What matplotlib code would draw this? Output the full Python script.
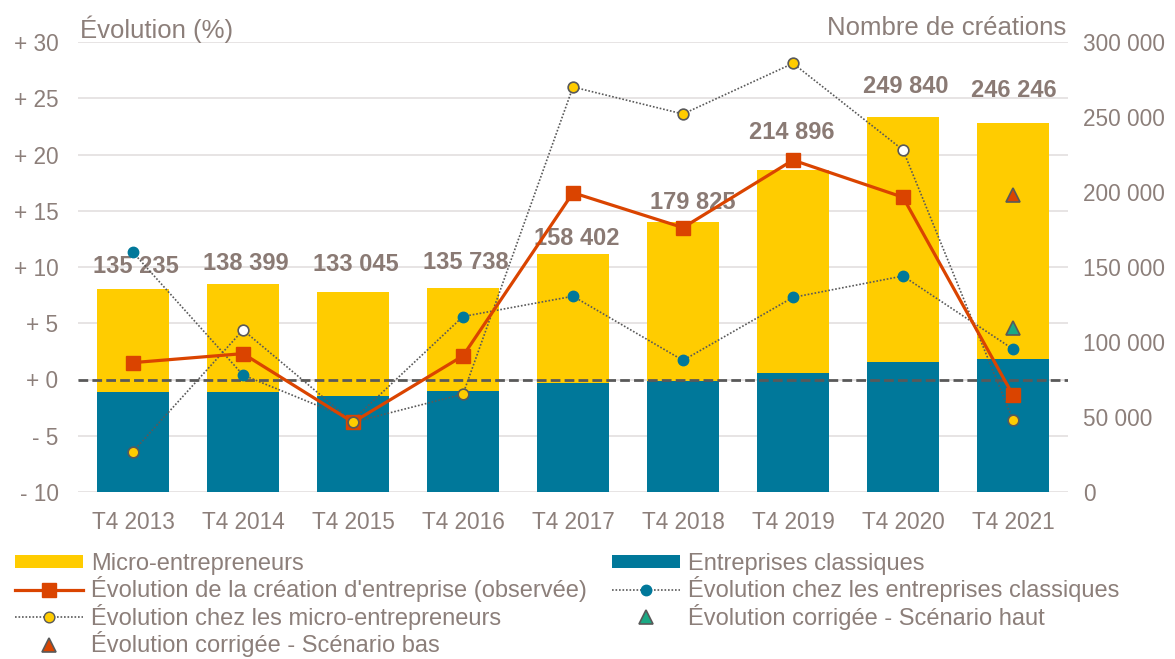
import matplotlib
matplotlib.use("Agg")
import matplotlib.pyplot as plt
from matplotlib.lines import Line2D
from matplotlib.patches import Patch

plt.rcParams['font.family'] = ['Liberation Sans', 'DejaVu Sans']

# --- data ---
quarters = ["T4 2013", "T4 2014", "T4 2015", "T4 2016", "T4 2017",
            "T4 2018", "T4 2019", "T4 2020", "T4 2021"]
total = [135235, 138399, 133045, 135738, 158402, 179825, 214896, 249840, 246246]
classiques = [66500, 66700, 64200, 67600, 72900, 74200, 79600, 86700, 88900]
micro = [t - c for t, c in zip(total, classiques)]

evo_observee = [1.5, 2.3, -3.8, 2.1, 16.6, 13.5, 19.5, 16.2, -1.4]
evo_classiques = [11.3, 0.4, -3.6, 5.6, 7.4, 1.7, 7.3, 9.2, 2.7]
evo_micro = [-6.4, 4.4, -3.8, -1.3, 26.0, 23.6, 28.1, 20.4, -3.6]
micro_hollow = [False, True, False, False, False, False, False, True, False]
scenario_haut = [None] * 8 + [4.6]
scenario_bas = [None] * 8 + [16.4]

left_ticks = [-10, -5, 0, 5, 10, 15, 20, 25, 30]
right_ticks = [0, 50000, 100000, 150000, 200000, 250000, 300000]

# label offsets above bar tops (pixels)
label_dy = [23, 21, 28, 26, 16, 20, 37, 31, 32]
label_dx = [3, 3, 3, 3, 4, 10, -1, 3, 1]

YELLOW = "#FFCC00"
TEAL = "#00789A"
ORANGE = "#DA4400"
GREEN = "#1BA984"
GREY = "#595959"
TXT = "#8C7F7A"
GRID = "#E0DCDC"

fig = plt.figure(figsize=(11.75, 6.59), dpi=100)
ax = fig.add_axes([78 / 1175, 1 - 492 / 659, 990 / 1175, 450 / 659])
axl = ax.twinx()

x = list(range(len(quarters)))

# bars on the count axis (right)
ax.bar(x, classiques, width=0.66, color=TEAL, zorder=2)
ax.bar(x, micro, width=0.66, bottom=classiques, color=YELLOW, zorder=2)
ax.set_ylim(0, 300000)
ax.set_xlim(-0.5, len(quarters) - 0.5)

# gridlines follow the left (%) ticks, drawn behind the bars
for t in left_ticks:
    yv = (t - left_ticks[0]) / (left_ticks[-1] - left_ticks[0]) * 300000
    ax.axhline(yv, color=GRID, lw=1.1, zorder=0)

for xi, t, dx, dy in zip(x, total, label_dx, label_dy):
    ax.annotate(f"{t:,}".replace(",", " "), (xi, t), xytext=(dx * 0.72, dy * 0.72),
                textcoords="offset points", ha="center", va="center",
                fontsize=17, fontweight="bold", color="#8A7A74", zorder=5)

ax.yaxis.tick_right()
ax.set_yticks(right_ticks)
ax.set_yticklabels([f"{v:,}".replace(",", " ") for v in right_ticks])
ax.set_xticks(x)
ax.set_xticklabels(quarters)
ax.tick_params(axis="y", length=0, pad=11, labelsize=16.3, labelcolor=TXT,
               right=False, labelright=True, left=False, labelleft=False)
ax.tick_params(axis="x", length=0, pad=14, labelsize=16.3, labelcolor=TXT)

# percentage lines on the left axis
dot = (0, (1, 1.1))
axl.set_ylim(-10, 30)
axl.axhline(0, color=GREY, lw=2, ls=(0, (3.5, 1.5)), zorder=1)
axl.plot(x, evo_classiques, color=GREY, lw=1.2, ls=dot, marker="o",
         ms=7.5, mfc=TEAL, mec=TEAL, zorder=2)
axl.plot(x, evo_micro, color=GREY, lw=1.2, ls=dot, zorder=2)
for xi, v, h in zip(x, evo_micro, micro_hollow):
    axl.plot(xi, v, marker="o", ms=7.7, mfc="white" if h else YELLOW,
             mec=GREY, mew=1.2, zorder=4)
axl.plot(x, evo_observee, color=ORANGE, lw=2.3, marker="s", ms=9.5,
         mfc=ORANGE, mec=ORANGE, zorder=3)
for xi, v in zip(x, scenario_bas):
    if v is not None:
        axl.plot(xi, v, marker="^", ms=10, mfc=ORANGE, mec=GREY, mew=1.2, zorder=4)
for xi, v in zip(x, scenario_haut):
    if v is not None:
        axl.plot(xi, v, marker="^", ms=10, mfc=GREEN, mec=GREY, mew=1.2, zorder=4)

axl.yaxis.tick_left()
axl.set_yticks(left_ticks)
axl.set_yticklabels([f"+ {v}" if v >= 0 else f"- {abs(v)}" for v in left_ticks])
axl.tick_params(axis="y", length=0, pad=14, labelsize=16.3, labelcolor=TXT,
                left=False, labelleft=True, right=False, labelright=False)

for a in (ax, axl):
    for s in a.spines.values():
        s.set_visible(False)

fig.text(80 / 1175, 1 - 38 / 659, "Évolution (%)", fontsize=18.5, color=TXT,
         ha="left", va="baseline")
fig.text(1066 / 1175, 1 - 35 / 659, "Nombre de créations", fontsize=18.5,
         color=TXT, ha="right", va="baseline")

# legend
handles = [
    Patch(facecolor=YELLOW, edgecolor="none"),
    Line2D([], [], color=ORANGE, lw=2.3, marker="s", ms=9.5, mfc=ORANGE, mec=ORANGE),
    Line2D([], [], color=GREY, lw=1.2, ls=dot, marker="o", ms=7.7, mfc=YELLOW, mec=GREY),
    Line2D([], [], ls="none", marker="^", ms=10, mfc=ORANGE, mec=GREY, mew=1.2),
    Patch(facecolor=TEAL, edgecolor="none"),
    Line2D([], [], color=GREY, lw=1.2, ls=dot, marker="o", ms=7.5, mfc=TEAL, mec=TEAL),
    Line2D([], [], ls="none", marker="^", ms=10, mfc=GREEN, mec=GREY, mew=1.2),
]
labels = [
    "Micro-entrepreneurs",
    "Évolution de la création d'entreprise (observée)",
    "Évolution chez les micro-entrepreneurs",
    "Évolution corrigée - Scénario bas",
    "Entreprises classiques",
    "Évolution chez les entreprises classiques",
    "Évolution corrigée - Scénario haut",
]
fig.legend(handles, labels, ncol=2, loc="upper left",
           bbox_to_anchor=(15 / 1175, 1 - 553 / 659), frameon=False,
           fontsize=17, labelcolor=TXT, handlelength=2.87, handleheight=0.5,
           handletextpad=0.34, columnspacing=1.08, labelspacing=0.06,
           borderpad=0, borderaxespad=0)

fig.savefig("out.png", dpi=100)
